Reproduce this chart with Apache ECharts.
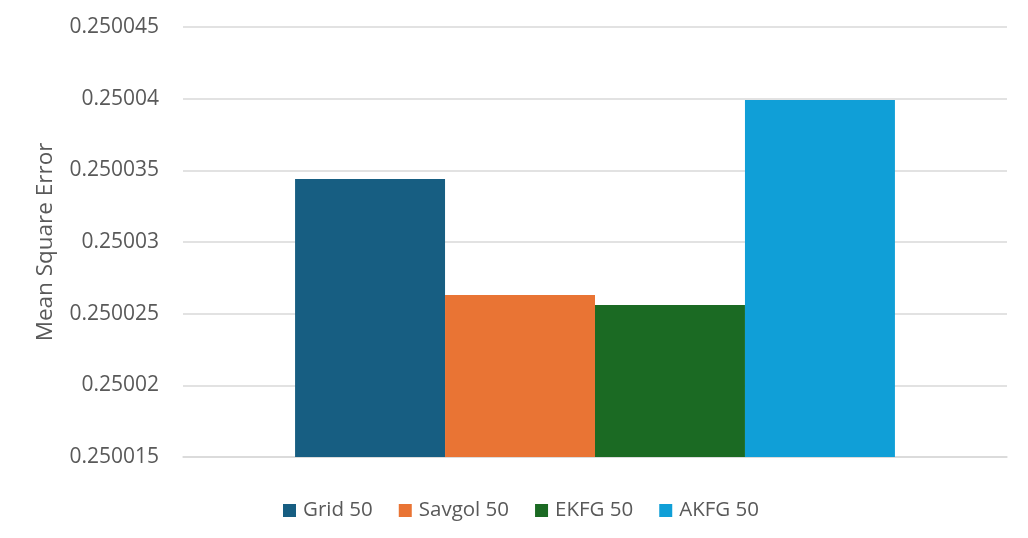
<!DOCTYPE html>
<html>
<head>
<meta charset="utf-8">
<script src="https://cdn.jsdelivr.net/npm/echarts@6/dist/echarts.min.js"></script>
<style>html,body{margin:0;padding:0;background:#fff;}#c{width:1028px;height:538px;}</style>
</head>
<body>
<div id="c"></div>
<script>
const categories = [''];
const seriesNames = ['Grid 50', 'Savgol 50', 'EKFG 50', 'AKFG 50'];
const gridValues = [0.2500344];
const savgolValues = [0.2500263];
const ekfgValues = [0.2500256];
const akfgValues = [0.2500399];
const yTicks = [0.250015, 0.25002, 0.250025, 0.25003, 0.250035, 0.25004, 0.250045];
const colors = ['#175e82', '#e97434', '#1b6a23', '#109fd7'];
const allValues = [gridValues, savgolValues, ekfgValues, akfgValues];

const chart = echarts.init(document.getElementById('c'));
chart.setOption({
  animation: false,
  textStyle: { fontFamily: 'Open Sans' },
  legend: {
    bottom: 12, left: 278,
    itemWidth: 13, itemHeight: 13, itemGap: 26,
    icon: 'rect',
    textStyle: { fontSize: 20.5, color: '#595959', fontFamily: 'Open Sans', padding: [0, 0, 0, 2] },
    data: seriesNames
  },
  grid: { left: 183, right: 21, top: 27, bottom: 81 },
  xAxis: {
    type: 'category', data: categories,
    axisLine: { lineStyle: { color: '#d9d9d9', width: 1.5 } },
    axisTick: { show: false },
    axisLabel: { show: false }
  },
  yAxis: {
    type: 'value',
    min: yTicks[0], max: yTicks[yTicks.length - 1], interval: 0.000005,
    name: 'Mean Square Error', nameLocation: 'middle', nameGap: 126,
    nameTextStyle: { fontSize: 22.5, color: '#595959', fontFamily: 'Open Sans' },
    axisLine: { show: false }, axisTick: { show: false },
    axisLabel: {
      fontSize: 21, color: '#595959', margin: 24, fontFamily: 'Open Sans',
      formatter: v => String(+(+v).toFixed(6))
    },
    splitLine: { lineStyle: { color: '#d9d9d9', width: 1.5 } }
  },
  series: seriesNames.map((n, i) => ({
    name: n, type: 'bar', data: allValues[i],
    barGap: '0%', barCategoryGap: '27.2%',
    itemStyle: { color: colors[i] }
  }))
});
</script>
</body>
</html>
